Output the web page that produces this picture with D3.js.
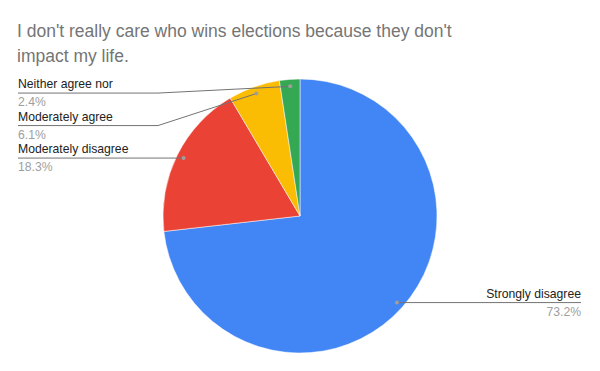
<!DOCTYPE html>
<html>
<head>
<meta charset="utf-8">
<script src="https://cdn.jsdelivr.net/npm/d3@7"></script>
<style>
body { margin: 0; background: #fff; }
text { font-family: "Liberation Sans", Arial, sans-serif; }
</style>
</head>
<body>
<svg id="myGraph" width="600" height="371"></svg>
<script>
var categories = ["Strongly disagree", "Moderately disagree", "Moderately agree", "Neither agree nor"];
var values = [73.2, 18.3, 6.1, 2.4];
var colors = ["#4285F4", "#EA4335", "#FBBC04", "#34A853"];
var titleLines = ["I don't really care who wins elections because they don't", "impact my life."];

var svgWidth = 600;
var svgHeight = 371;
var cx = 300;
var cy = 216;
var radius = 137;

var svg = d3.select("#myGraph");

// 제목
svg.selectAll("text.title")
    .data(titleLines)
    .enter()
    .append("text")
    .attr("class", "title")
    .attr("x", 17)
    .attr("y", (d, i) => 37 + i * 25)
    .attr("font-size", 17.5)
    .attr("fill", "#757575")
    .text(d => d);

var data = categories.map((c, i) => ({name: c, value: values[i], color: colors[i]}));

var pie = d3.pie().sort(null).value(d => d.value);
var arcs = pie(data);

var arc = d3.arc().innerRadius(0).outerRadius(radius);
var dotArc = d3.arc().innerRadius(130).outerRadius(130);

var g = svg.append("g").attr("transform", "translate(" + cx + "," + cy + ")");

g.selectAll("path")
    .data(arcs)
    .enter()
    .append("path")
    .attr("d", arc)
    .attr("fill", d => d.data.color)
    .attr("stroke", "#fff")
    .attr("stroke-width", 0.5);

// 라벨 위치
arcs.forEach(d => {
    var p = dotArc.centroid(d);
    d.dot = [p[0] + cx, p[1] + cy];
    d.left = p[0] < 0;
});

// 왼쪽 라벨은 가장 아래 라벨부터 위로 일정 간격
var leftArcs = arcs.filter(d => d.left).sort((a, b) => b.dot[1] - a.dot[1]);
leftArcs.forEach((d, i) => {
    d.ly = leftArcs[0].dot[1] - i * 32.5;
});
arcs.filter(d => !d.left).forEach(d => { d.ly = d.dot[1]; });

var labels = svg.append("g");

labels.selectAll("polyline")
    .data(arcs)
    .enter()
    .append("polyline")
    .attr("fill", "none")
    .attr("stroke", "#737373")
    .attr("stroke-width", 1)
    .attr("points", d => {
        if (d.left) {
            var bx = Math.min(158, d.dot[0]);
            return [[18, d.ly], [bx, d.ly], d.dot].map(p => p.join(",")).join(" ");
        }
        return [d.dot, [581, d.ly]].map(p => p.join(",")).join(" ");
    });

labels.selectAll("circle")
    .data(arcs)
    .enter()
    .append("circle")
    .attr("cx", d => d.dot[0])
    .attr("cy", d => d.dot[1])
    .attr("r", 2)
    .attr("fill", "#9e9e9e");

labels.selectAll("text.name")
    .data(arcs)
    .enter()
    .append("text")
    .attr("class", "name")
    .attr("x", d => d.left ? 18 : 581)
    .attr("y", d => d.ly - 5)
    .attr("text-anchor", d => d.left ? "start" : "end")
    .attr("font-size", 12.2)
    .attr("fill", "#222")
    .text(d => d.data.name);

labels.selectAll("text.value")
    .data(arcs)
    .enter()
    .append("text")
    .attr("class", "value")
    .attr("x", d => d.left ? 18 : 581)
    .attr("y", d => d.ly + 13)
    .attr("text-anchor", d => d.left ? "start" : "end")
    .attr("font-size", 12.2)
    .attr("fill", "#9e9e9e")
    .text(d => d.data.value.toFixed(1) + "%");
</script>
</body>
</html>
